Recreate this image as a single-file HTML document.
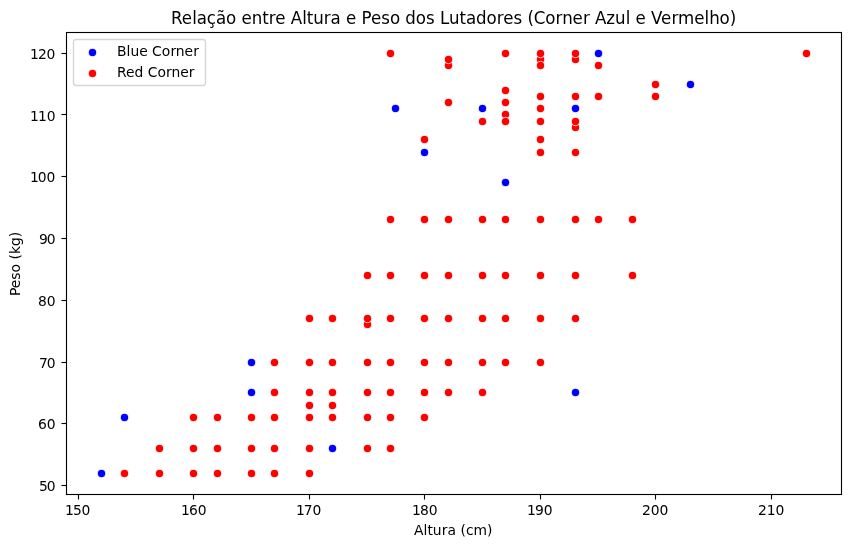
<!DOCTYPE html>
<html lang="pt">
<head>
<meta charset="utf-8">
<title>Relação entre Altura e Peso dos Lutadores</title>
<style>
html,body{margin:0;padding:0;background:#fff;}
body{width:850px;height:547px;overflow:hidden;}
svg{display:block;}
text{font-family:"DejaVu Sans","Liberation Sans",sans-serif;fill:#000;}
.t{font-size:13.889px;}
.ttl{font-size:16.667px;}
.b{fill:#0000ff;}
.r{fill:#ff0000;}
.e{fill:none;stroke:#fff;stroke-width:0.75;}
.ax{stroke:#000;stroke-width:1.111;fill:none;}
</style>
</head>
<body>
<svg width="850" height="547" viewBox="0 0 850 547">
<rect width="850" height="547" fill="#fff"/>
<g>
<circle class="b" cx="101.5" cy="473.5" r="4.0"/><circle class="e" cx="101.5" cy="473.5" r="4.2"/>
<circle class="b" cx="332.5" cy="448.5" r="4.0"/><circle class="e" cx="332.5" cy="448.5" r="4.2"/>
<circle class="b" cx="124.5" cy="417.5" r="4.0"/><circle class="e" cx="124.5" cy="417.5" r="4.2"/>
<circle class="b" cx="251.5" cy="392.5" r="4.0"/><circle class="e" cx="251.5" cy="392.5" r="4.2"/>
<circle class="b" cx="575.5" cy="392.5" r="4.0"/><circle class="e" cx="575.5" cy="392.5" r="4.2"/>
<circle class="b" cx="251.5" cy="362.5" r="4.0"/><circle class="e" cx="251.5" cy="362.5" r="4.2"/>
<circle class="b" cx="505.5" cy="182.5" r="4.0"/><circle class="e" cx="505.5" cy="182.5" r="4.2"/>
<circle class="b" cx="424.5" cy="152.5" r="4.0"/><circle class="e" cx="424.5" cy="152.5" r="4.2"/>
<circle class="b" cx="395.5" cy="108.5" r="4.0"/><circle class="e" cx="395.5" cy="108.5" r="4.2"/>
<circle class="b" cx="482.5" cy="108.5" r="4.0"/><circle class="e" cx="482.5" cy="108.5" r="4.2"/>
<circle class="b" cx="575.5" cy="108.5" r="4.0"/><circle class="e" cx="575.5" cy="108.5" r="4.2"/>
<circle class="b" cx="690.5" cy="84.5" r="4.0"/><circle class="e" cx="690.5" cy="84.5" r="4.2"/>
<circle class="b" cx="598.5" cy="53.5" r="4.0"/><circle class="e" cx="598.5" cy="53.5" r="4.2"/>
</g>
<g>
<circle class="r" cx="124.5" cy="473.5" r="4.0"/><circle class="e" cx="124.5" cy="473.5" r="4.2"/>
<circle class="r" cx="159.5" cy="473.5" r="4.0"/><circle class="e" cx="159.5" cy="473.5" r="4.2"/>
<circle class="r" cx="193.5" cy="473.5" r="4.0"/><circle class="e" cx="193.5" cy="473.5" r="4.2"/>
<circle class="r" cx="217.5" cy="473.5" r="4.0"/><circle class="e" cx="217.5" cy="473.5" r="4.2"/>
<circle class="r" cx="251.5" cy="473.5" r="4.0"/><circle class="e" cx="251.5" cy="473.5" r="4.2"/>
<circle class="r" cx="274.5" cy="473.5" r="4.0"/><circle class="e" cx="274.5" cy="473.5" r="4.2"/>
<circle class="r" cx="309.5" cy="473.5" r="4.0"/><circle class="e" cx="309.5" cy="473.5" r="4.2"/>
<circle class="r" cx="159.5" cy="448.5" r="4.0"/><circle class="e" cx="159.5" cy="448.5" r="4.2"/>
<circle class="r" cx="193.5" cy="448.5" r="4.0"/><circle class="e" cx="193.5" cy="448.5" r="4.2"/>
<circle class="r" cx="217.5" cy="448.5" r="4.0"/><circle class="e" cx="217.5" cy="448.5" r="4.2"/>
<circle class="r" cx="251.5" cy="448.5" r="4.0"/><circle class="e" cx="251.5" cy="448.5" r="4.2"/>
<circle class="r" cx="274.5" cy="448.5" r="4.0"/><circle class="e" cx="274.5" cy="448.5" r="4.2"/>
<circle class="r" cx="309.5" cy="448.5" r="4.0"/><circle class="e" cx="309.5" cy="448.5" r="4.2"/>
<circle class="r" cx="367.5" cy="448.5" r="4.0"/><circle class="e" cx="367.5" cy="448.5" r="4.2"/>
<circle class="r" cx="390.5" cy="448.5" r="4.0"/><circle class="e" cx="390.5" cy="448.5" r="4.2"/>
<circle class="r" cx="193.5" cy="417.5" r="4.0"/><circle class="e" cx="193.5" cy="417.5" r="4.2"/>
<circle class="r" cx="217.5" cy="417.5" r="4.0"/><circle class="e" cx="217.5" cy="417.5" r="4.2"/>
<circle class="r" cx="251.5" cy="417.5" r="4.0"/><circle class="e" cx="251.5" cy="417.5" r="4.2"/>
<circle class="r" cx="274.5" cy="417.5" r="4.0"/><circle class="e" cx="274.5" cy="417.5" r="4.2"/>
<circle class="r" cx="309.5" cy="417.5" r="4.0"/><circle class="e" cx="309.5" cy="417.5" r="4.2"/>
<circle class="r" cx="332.5" cy="417.5" r="4.0"/><circle class="e" cx="332.5" cy="417.5" r="4.2"/>
<circle class="r" cx="367.5" cy="417.5" r="4.0"/><circle class="e" cx="367.5" cy="417.5" r="4.2"/>
<circle class="r" cx="390.5" cy="417.5" r="4.0"/><circle class="e" cx="390.5" cy="417.5" r="4.2"/>
<circle class="r" cx="424.5" cy="417.5" r="4.0"/><circle class="e" cx="424.5" cy="417.5" r="4.2"/>
<circle class="r" cx="309.5" cy="405.5" r="4.0"/><circle class="e" cx="309.5" cy="405.5" r="4.2"/>
<circle class="r" cx="332.5" cy="405.5" r="4.0"/><circle class="e" cx="332.5" cy="405.5" r="4.2"/>
<circle class="r" cx="274.5" cy="392.5" r="4.0"/><circle class="e" cx="274.5" cy="392.5" r="4.2"/>
<circle class="r" cx="309.5" cy="392.5" r="4.0"/><circle class="e" cx="309.5" cy="392.5" r="4.2"/>
<circle class="r" cx="332.5" cy="392.5" r="4.0"/><circle class="e" cx="332.5" cy="392.5" r="4.2"/>
<circle class="r" cx="367.5" cy="392.5" r="4.0"/><circle class="e" cx="367.5" cy="392.5" r="4.2"/>
<circle class="r" cx="390.5" cy="392.5" r="4.0"/><circle class="e" cx="390.5" cy="392.5" r="4.2"/>
<circle class="r" cx="424.5" cy="392.5" r="4.0"/><circle class="e" cx="424.5" cy="392.5" r="4.2"/>
<circle class="r" cx="448.5" cy="392.5" r="4.0"/><circle class="e" cx="448.5" cy="392.5" r="4.2"/>
<circle class="r" cx="482.5" cy="392.5" r="4.0"/><circle class="e" cx="482.5" cy="392.5" r="4.2"/>
<circle class="r" cx="274.5" cy="362.5" r="4.0"/><circle class="e" cx="274.5" cy="362.5" r="4.2"/>
<circle class="r" cx="309.5" cy="362.5" r="4.0"/><circle class="e" cx="309.5" cy="362.5" r="4.2"/>
<circle class="r" cx="332.5" cy="362.5" r="4.0"/><circle class="e" cx="332.5" cy="362.5" r="4.2"/>
<circle class="r" cx="367.5" cy="362.5" r="4.0"/><circle class="e" cx="367.5" cy="362.5" r="4.2"/>
<circle class="r" cx="390.5" cy="362.5" r="4.0"/><circle class="e" cx="390.5" cy="362.5" r="4.2"/>
<circle class="r" cx="424.5" cy="362.5" r="4.0"/><circle class="e" cx="424.5" cy="362.5" r="4.2"/>
<circle class="r" cx="448.5" cy="362.5" r="4.0"/><circle class="e" cx="448.5" cy="362.5" r="4.2"/>
<circle class="r" cx="482.5" cy="362.5" r="4.0"/><circle class="e" cx="482.5" cy="362.5" r="4.2"/>
<circle class="r" cx="505.5" cy="362.5" r="4.0"/><circle class="e" cx="505.5" cy="362.5" r="4.2"/>
<circle class="r" cx="540.5" cy="362.5" r="4.0"/><circle class="e" cx="540.5" cy="362.5" r="4.2"/>
<circle class="r" cx="367.5" cy="324.5" r="4.0"/><circle class="e" cx="367.5" cy="324.5" r="4.2"/>
<circle class="r" cx="309.5" cy="318.5" r="4.0"/><circle class="e" cx="309.5" cy="318.5" r="4.2"/>
<circle class="r" cx="332.5" cy="318.5" r="4.0"/><circle class="e" cx="332.5" cy="318.5" r="4.2"/>
<circle class="r" cx="367.5" cy="318.5" r="4.0"/><circle class="e" cx="367.5" cy="318.5" r="4.2"/>
<circle class="r" cx="390.5" cy="318.5" r="4.0"/><circle class="e" cx="390.5" cy="318.5" r="4.2"/>
<circle class="r" cx="424.5" cy="318.5" r="4.0"/><circle class="e" cx="424.5" cy="318.5" r="4.2"/>
<circle class="r" cx="448.5" cy="318.5" r="4.0"/><circle class="e" cx="448.5" cy="318.5" r="4.2"/>
<circle class="r" cx="482.5" cy="318.5" r="4.0"/><circle class="e" cx="482.5" cy="318.5" r="4.2"/>
<circle class="r" cx="505.5" cy="318.5" r="4.0"/><circle class="e" cx="505.5" cy="318.5" r="4.2"/>
<circle class="r" cx="540.5" cy="318.5" r="4.0"/><circle class="e" cx="540.5" cy="318.5" r="4.2"/>
<circle class="r" cx="575.5" cy="318.5" r="4.0"/><circle class="e" cx="575.5" cy="318.5" r="4.2"/>
<circle class="r" cx="367.5" cy="275.5" r="4.0"/><circle class="e" cx="367.5" cy="275.5" r="4.2"/>
<circle class="r" cx="390.5" cy="275.5" r="4.0"/><circle class="e" cx="390.5" cy="275.5" r="4.2"/>
<circle class="r" cx="424.5" cy="275.5" r="4.0"/><circle class="e" cx="424.5" cy="275.5" r="4.2"/>
<circle class="r" cx="448.5" cy="275.5" r="4.0"/><circle class="e" cx="448.5" cy="275.5" r="4.2"/>
<circle class="r" cx="482.5" cy="275.5" r="4.0"/><circle class="e" cx="482.5" cy="275.5" r="4.2"/>
<circle class="r" cx="505.5" cy="275.5" r="4.0"/><circle class="e" cx="505.5" cy="275.5" r="4.2"/>
<circle class="r" cx="540.5" cy="275.5" r="4.0"/><circle class="e" cx="540.5" cy="275.5" r="4.2"/>
<circle class="r" cx="575.5" cy="275.5" r="4.0"/><circle class="e" cx="575.5" cy="275.5" r="4.2"/>
<circle class="r" cx="632.5" cy="275.5" r="4.0"/><circle class="e" cx="632.5" cy="275.5" r="4.2"/>
<circle class="r" cx="390.5" cy="219.5" r="4.0"/><circle class="e" cx="390.5" cy="219.5" r="4.2"/>
<circle class="r" cx="424.5" cy="219.5" r="4.0"/><circle class="e" cx="424.5" cy="219.5" r="4.2"/>
<circle class="r" cx="448.5" cy="219.5" r="4.0"/><circle class="e" cx="448.5" cy="219.5" r="4.2"/>
<circle class="r" cx="482.5" cy="219.5" r="4.0"/><circle class="e" cx="482.5" cy="219.5" r="4.2"/>
<circle class="r" cx="505.5" cy="219.5" r="4.0"/><circle class="e" cx="505.5" cy="219.5" r="4.2"/>
<circle class="r" cx="540.5" cy="219.5" r="4.0"/><circle class="e" cx="540.5" cy="219.5" r="4.2"/>
<circle class="r" cx="575.5" cy="219.5" r="4.0"/><circle class="e" cx="575.5" cy="219.5" r="4.2"/>
<circle class="r" cx="598.5" cy="219.5" r="4.0"/><circle class="e" cx="598.5" cy="219.5" r="4.2"/>
<circle class="r" cx="632.5" cy="219.5" r="4.0"/><circle class="e" cx="632.5" cy="219.5" r="4.2"/>
<circle class="r" cx="540.5" cy="152.5" r="4.0"/><circle class="e" cx="540.5" cy="152.5" r="4.2"/>
<circle class="r" cx="575.5" cy="152.5" r="4.0"/><circle class="e" cx="575.5" cy="152.5" r="4.2"/>
<circle class="r" cx="424.5" cy="139.5" r="4.0"/><circle class="e" cx="424.5" cy="139.5" r="4.2"/>
<circle class="r" cx="540.5" cy="139.5" r="4.0"/><circle class="e" cx="540.5" cy="139.5" r="4.2"/>
<circle class="r" cx="575.5" cy="127.5" r="4.0"/><circle class="e" cx="575.5" cy="127.5" r="4.2"/>
<circle class="r" cx="505.5" cy="114.5" r="4.0"/><circle class="e" cx="505.5" cy="114.5" r="4.2"/>
<circle class="r" cx="482.5" cy="121.5" r="4.0"/><circle class="e" cx="482.5" cy="121.5" r="4.2"/>
<circle class="r" cx="505.5" cy="121.5" r="4.0"/><circle class="e" cx="505.5" cy="121.5" r="4.2"/>
<circle class="r" cx="540.5" cy="121.5" r="4.0"/><circle class="e" cx="540.5" cy="121.5" r="4.2"/>
<circle class="r" cx="575.5" cy="121.5" r="4.0"/><circle class="e" cx="575.5" cy="121.5" r="4.2"/>
<circle class="r" cx="540.5" cy="108.5" r="4.0"/><circle class="e" cx="540.5" cy="108.5" r="4.2"/>
<circle class="r" cx="448.5" cy="102.5" r="4.0"/><circle class="e" cx="448.5" cy="102.5" r="4.2"/>
<circle class="r" cx="505.5" cy="102.5" r="4.0"/><circle class="e" cx="505.5" cy="102.5" r="4.2"/>
<circle class="r" cx="540.5" cy="96.5" r="4.0"/><circle class="e" cx="540.5" cy="96.5" r="4.2"/>
<circle class="r" cx="575.5" cy="96.5" r="4.0"/><circle class="e" cx="575.5" cy="96.5" r="4.2"/>
<circle class="r" cx="598.5" cy="96.5" r="4.0"/><circle class="e" cx="598.5" cy="96.5" r="4.2"/>
<circle class="r" cx="655.5" cy="96.5" r="4.0"/><circle class="e" cx="655.5" cy="96.5" r="4.2"/>
<circle class="r" cx="505.5" cy="90.5" r="4.0"/><circle class="e" cx="505.5" cy="90.5" r="4.2"/>
<circle class="r" cx="655.5" cy="84.5" r="4.0"/><circle class="e" cx="655.5" cy="84.5" r="4.2"/>
<circle class="r" cx="540.5" cy="59.5" r="4.0"/><circle class="e" cx="540.5" cy="59.5" r="4.2"/>
<circle class="r" cx="448.5" cy="65.5" r="4.0"/><circle class="e" cx="448.5" cy="65.5" r="4.2"/>
<circle class="r" cx="540.5" cy="65.5" r="4.0"/><circle class="e" cx="540.5" cy="65.5" r="4.2"/>
<circle class="r" cx="598.5" cy="65.5" r="4.0"/><circle class="e" cx="598.5" cy="65.5" r="4.2"/>
<circle class="r" cx="448.5" cy="59.5" r="4.0"/><circle class="e" cx="448.5" cy="59.5" r="4.2"/>
<circle class="r" cx="575.5" cy="59.5" r="4.0"/><circle class="e" cx="575.5" cy="59.5" r="4.2"/>
<circle class="r" cx="390.5" cy="53.5" r="4.0"/><circle class="e" cx="390.5" cy="53.5" r="4.2"/>
<circle class="r" cx="505.5" cy="53.5" r="4.0"/><circle class="e" cx="505.5" cy="53.5" r="4.2"/>
<circle class="r" cx="540.5" cy="53.5" r="4.0"/><circle class="e" cx="540.5" cy="53.5" r="4.2"/>
<circle class="r" cx="575.5" cy="53.5" r="4.0"/><circle class="e" cx="575.5" cy="53.5" r="4.2"/>
<circle class="r" cx="806.5" cy="53.5" r="4.0"/><circle class="e" cx="806.5" cy="53.5" r="4.2"/>
</g>
<g class="ax">
<line x1="78.5" y1="494.5" x2="78.5" y2="499.5"/>
<line x1="193.5" y1="494.5" x2="193.5" y2="499.5"/>
<line x1="309.5" y1="494.5" x2="309.5" y2="499.5"/>
<line x1="424.5" y1="494.5" x2="424.5" y2="499.5"/>
<line x1="540.5" y1="494.5" x2="540.5" y2="499.5"/>
<line x1="655.5" y1="494.5" x2="655.5" y2="499.5"/>
<line x1="771.5" y1="494.5" x2="771.5" y2="499.5"/>
<line x1="61.5" y1="485.5" x2="66.5" y2="485.5"/>
<line x1="61.5" y1="423.5" x2="66.5" y2="423.5"/>
<line x1="61.5" y1="362.5" x2="66.5" y2="362.5"/>
<line x1="61.5" y1="300.5" x2="66.5" y2="300.5"/>
<line x1="61.5" y1="238.5" x2="66.5" y2="238.5"/>
<line x1="61.5" y1="176.5" x2="66.5" y2="176.5"/>
<line x1="61.5" y1="114.5" x2="66.5" y2="114.5"/>
<line x1="61.5" y1="53.5" x2="66.5" y2="53.5"/>
<rect x="66.5" y="32.5" width="775" height="462"/>
</g>
<rect x="73.5" y="39.5" width="132" height="46" rx="2.78" ry="2.78" fill="#fff" fill-opacity="0.8" stroke="#ccc" stroke-opacity="0.8" stroke-width="1.389"/>
<circle class="b" cx="92.5" cy="52.5" r="4.0"/><circle class="e" cx="92.5" cy="52.5" r="4.2"/>
<circle class="r" cx="92.5" cy="73.5" r="4.0"/><circle class="e" cx="92.5" cy="73.5" r="4.2"/>
<text class="t" transform="translate(0 514.7) scale(1 1)" x="64.931 72.909 81.387">150</text>
<text class="t" transform="translate(0 514.7) scale(1 1.06)" x="180.928 188.897 197.631">160</text>
<text class="t" transform="translate(0 514.7) scale(1 1)" x="295.927 303.646 312.38">170</text>
<text class="t" transform="translate(0 514.7) scale(1 1.02)" x="411.927 419.895 428.63">180</text>
<text class="t" transform="translate(0 514.7) scale(1 1.06)" x="526.926 534.895 543.879">190</text>
<text class="t" transform="translate(0 514.7) scale(1 1)" x="641.925 650.644 659.378">200</text>
<text class="t" transform="translate(0 514.7) scale(1 1)" x="757.924 766.643 775.378">210</text>
<text class="t" transform="translate(0 490.625) scale(1 1.04)" x="38.984 46.801">50</text>
<text class="t" transform="translate(0 428.86) scale(1 1)" x="37.984 46.801">60</text>
<text class="t" transform="translate(0 367.596) scale(1 1.04)" x="38.984 46.801">70</text>
<text class="t" transform="translate(0 305.831) scale(1 1.02)" x="37.984 46.801">80</text>
<text class="t" transform="translate(0 243.566) scale(1 1.02)" x="38.984 46.801">90</text>
<text class="t" transform="translate(0 181.801) scale(1 1)" x="29.901 37.718 46.551">100</text>
<text class="t" transform="translate(0 120.537) scale(1 1.04)" x="29.901 37.968 46.801">110</text>
<text class="t" transform="translate(0 58.772) scale(1 1.02)" x="29.901 37.968 46.551">120</text>
<text class="t" transform="translate(0 534.5) scale(1 1.06)" x="413.991 423.522 427.39 432.853 441.678 447.418 455.951 460.387 466.07 473.478 487.06">Altura (cm)</text>
<text class="t" transform="translate(20 264) rotate(-90) scale(1 1.06)" x="-32.128 -24.254 -15.709 -8.488 0.008 4.424 10.093 18.127 26.692">Peso (kg)</text>
<text class="ttl" transform="translate(0 23.5) scale(1 1.02)" x="171.123 181.683 192.187 196.811 206.754 215.912 226.121 235.8 241.599 251.838 262.142 268.673 275.144 285.132 290.682 302.327 306.701 313.231 323.77 330.616 340.575 346.11 356.113 361.398 371.091 381.345 390.022 399.951 405.251 415.82 425.999 434.676 439.961 448.953 459.508 466.023 475.982 486.551 496.73 503.215 513.454 522.382 527.431 533.667 545.302 555.481 562.291 572.58 583.084 590.18 594.965 606.36 615.097 625.651 630.775 635.56 646.314 651.098 660.952 671.441 677.986 694.215 704.454 709.328 719.382 729.826">Relação entre Altura e Peso dos Lutadores (Corner Azul e Vermelho)</text>
<text class="t" transform="translate(0 56.3) scale(1 0.96)" x="117 126.517 130.624 139.173 147.717 152.133 161.825 170.571 175.789 184.588 193.382">Blue Corner</text>
<text class="t" transform="translate(0 77.3) scale(1 0.96)" x="117 126.022 134.551 143.366 147.781 157.473 165.969 171.437 180.236 188.78">Red Corner</text>
</svg>
</body>
</html>
